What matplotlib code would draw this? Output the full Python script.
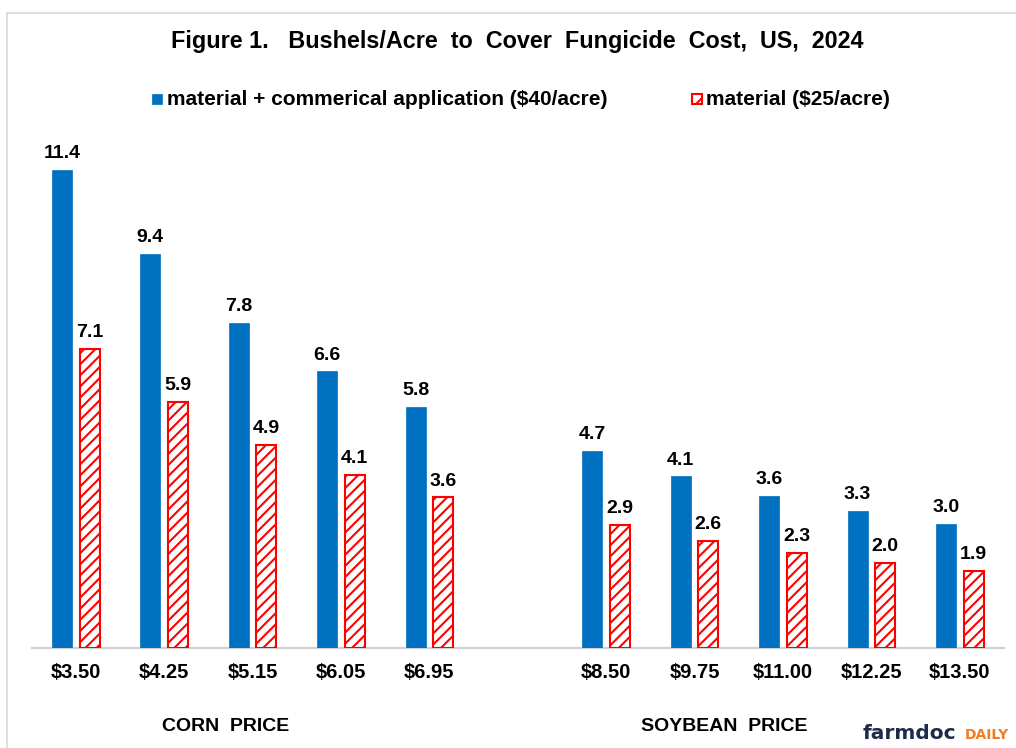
import matplotlib
matplotlib.use("Agg")
import matplotlib.pyplot as plt
from matplotlib.patches import Rectangle
import numpy as np

plt.rcParams['font.family'] = ['Liberation Sans', 'DejaVu Sans']
plt.rcParams['hatch.linewidth'] = 1.5
plt.rcParams['hatch.color'] = '#ff0000'

# ---- data ----
categories = ["$3.50", "$4.25", "$5.15", "$6.05", "$6.95", "",
              "$8.50", "$9.75", "$11.00", "$12.25", "$13.50"]
full_cost = [11.43, 9.41, 7.77, 6.61, 5.76, None,
             4.71, 4.10, 3.64, 3.27, 2.96]
material_cost = [7.14, 5.88, 4.854, 4.13, 3.60, None,
                 2.94, 2.56, 2.27, 2.04, 1.852]
series_names = ["material + commerical application ($40/acre)",
                "material ($25/acre)"]
title = "Figure 1.   Bushels/Acre  to  Cover  Fungicide  Cost,  US,  2024"
group_labels = ["CORN  PRICE", "SOYBEAN  PRICE"]

BLUE = '#0070c0'
RED = '#ff0000'

W, H = 1016, 748
fig = plt.figure(figsize=(W / 100, H / 100), dpi=100)

def fx(px):
    return px / W

def fy(py):
    return 1 - py / H

# frame
fig.add_artist(plt.Line2D([fx(7), fx(7)], [0, fy(13)], color='#d9d9d9', lw=1.2,
                          transform=fig.transFigure))
fig.add_artist(plt.Line2D([fx(7), 1], [fy(13), fy(13)], color='#d9d9d9', lw=1.2,
                          transform=fig.transFigure))

left, right = 31.6, 1004
base = 648
ymax = 12.0
ppu = 41.84
top = base - ymax * ppu
ax = fig.add_axes([fx(left), (H - base) / H, (right - left) / W, (base - top) / H])
ax.set_xlim(-0.5, len(categories) - 0.5)
ax.set_ylim(0, ymax)

x = np.arange(len(categories))
bw = 0.226
off = 0.156
for i in range(len(categories)):
    if full_cost[i] is None:
        continue
    ax.bar(x[i] - off, full_cost[i], bw, color=BLUE, edgecolor=BLUE, lw=0.5, zorder=3)
    ax.bar(x[i] + off, material_cost[i], bw, facecolor='white', edgecolor=RED,
           hatch='///', lw=1.5, zorder=3)
    ax.annotate(f"{full_cost[i]:.1f}", (x[i] - off, full_cost[i]), xytext=(0, 8.5),
                textcoords='offset points', ha='center', va='baseline',
                fontsize=14, fontweight='bold')
    ax.annotate(f"{material_cost[i]:.1f}", (x[i] + off, material_cost[i]), xytext=(0, 8.5),
                textcoords='offset points', ha='center', va='baseline',
                fontsize=14, fontweight='bold')

for s in ['top', 'right', 'left']:
    ax.spines[s].set_visible(False)
ax.spines['bottom'].set_color('#d0d0d0')
ax.spines['bottom'].set_linewidth(1.5)
ax.set_yticks([])
ax.set_xticks(x)
ax.set_xticklabels(categories, fontsize=14.5, fontweight='bold')
ax.tick_params(axis='x', length=0, pad=11)

# title
fig.text(fx(517), fy(48), title, ha='center', va='baseline', fontsize=16.8, fontweight='bold')

# legend (manual)
fig.add_artist(Rectangle((fx(152), fy(104)), 10 / W, 10 / H, transform=fig.transFigure,
                         facecolor=BLUE, edgecolor=BLUE, lw=0.5))
fig.text(fx(167), fy(105), series_names[0], ha='left', va='baseline',
         fontsize=15, fontweight='bold')
fig.add_artist(Rectangle((fx(692), fy(104)), 10 / W, 10 / H, transform=fig.transFigure,
                         facecolor='white', edgecolor=RED, hatch='//', lw=1.5))
fig.text(fx(706), fy(105), series_names[1], ha='left', va='baseline',
         fontsize=15, fontweight='bold')

# group labels
fig.text(fx(226), fy(731), group_labels[0], ha='center', va='baseline',
         fontsize=14, fontweight='bold')
fig.text(fx(724), fy(731), group_labels[1], ha='center', va='baseline',
         fontsize=14, fontweight='bold')

# logo
fig.text(fx(863), fy(739), "farmdoc", ha='left', va='baseline',
         fontsize=14.5, fontweight='bold', color='#1f2b4a', family=['DejaVu Sans'])
fig.text(fx(965), fy(739), "DAILY", ha='left', va='baseline',
         fontsize=10, fontweight='bold', color='#f47b20', family=['DejaVu Sans'])

fig.savefig("out.png", dpi=100)
